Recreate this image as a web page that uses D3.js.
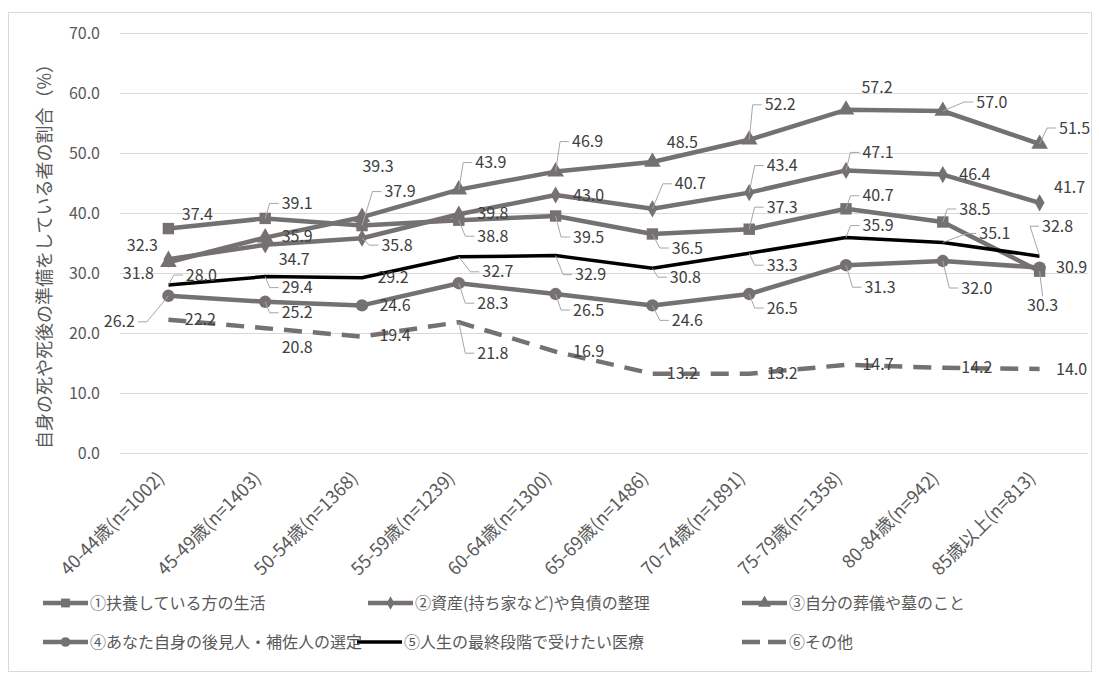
<!DOCTYPE html>
<html lang="ja">
<head>
<meta charset="utf-8">
<script src="https://cdn.jsdelivr.net/npm/d3@7"></script>
<style>
  html, body { margin: 0; padding: 0; background: #fff; }
  svg { display: block; font-family: "Noto Sans CJK JP", "Noto Sans", sans-serif; }
</style>
</head>
<body>
<svg id="chart" width="1099" height="679"></svg>
<script>
// Age groups (x axis)
const categories = [
  "40-44歳(n=1002)", "45-49歳(n=1403)", "50-54歳(n=1368)", "55-59歳(n=1239)",
  "60-64歳(n=1300)", "65-69歳(n=1486)", "70-74歳(n=1891)", "75-79歳(n=1358)",
  "80-84歳(n=942)", "85歳以上(n=813)"
];

// Y axis ticks (%)
const yTicks = [0, 10, 20, 30, 40, 50, 60, 70];

// Series names
const seriesNames = [
  "①扶養している方の生活",
  "②資産(持ち家など)や負債の整理",
  "③自分の葬儀や墓のこと",
  "④あなた自身の後見人・補佐人の選定",
  "⑤人生の最終段階で受けたい医療",
  "⑥その他"
];

// Series values (%)
const dependents = [37.4, 39.1, 37.9, 38.8, 39.5, 36.5, 37.3, 40.7, 38.5, 30.3];
const assets     = [32.3, 34.7, 35.8, 39.8, 43.0, 40.7, 43.4, 47.1, 46.4, 41.7];
const funeral    = [31.8, 35.9, 39.3, 43.9, 46.9, 48.5, 52.2, 57.2, 57.0, 51.5];
const guardian   = [26.2, 25.2, 24.6, 28.3, 26.5, 24.6, 26.5, 31.3, 32.0, 30.9];
const medical    = [28.0, 29.4, 29.2, 32.7, 32.9, 30.8, 33.3, 35.9, 35.1, 32.8];
const other      = [22.2, 20.8, 19.4, 21.8, 16.9, 13.2, 13.2, 14.7, 14.2, 14.0];

// Data-label placement: [dx, dy, leader line?] relative to each point
const labelPlacement = [
  [[29,-14,0],[32,-15,1],[38,-34,1],[34,16,1],[33,21,1],[35,14,1],[33,-22,1],[32,-13,1],[32,-13,1],[3,34,1]],
  [[-26,-14,0],[29,15,0],[35,7,1],[34,-1,0],[33,0,0],[38,-25,1],[33,-27,1],[32,-18,1],[32,0,0],[30,-15,0]],
  [[-30,11,0],[32,-1,0],[16,-51,0],[32,-27,1],[32,-30,1],[30,-20,0],[31,-35,1],[31,-22,0],[49,-9,1],[35,-16,1]],
  [[-49,26,1],[32,11,1],[33,0,0],[34,20,1],[33,16,1],[35,15,1],[33,14,1],[34,22,1],[34,27,1],[32,0,0]],
  [[33,-10,1],[32,11,1],[31,0,0],[39,15,1],[35,19,1],[33,9,1],[33,12,1],[32,-12,1],[52,-9,1],[18,-30,1]],
  [[32,0,0],[32,19,0],[33,-1,0],[34,31,1],[33,0,0],[30,0,0],[33,0,0],[32,0,0],[34,0,0],[32,0,0]]
];

const GRAY = "#767171";
const series = [
  { name: seriesNames[0], values: dependents, color: GRAY, width: 4.5, marker: "square" },
  { name: seriesNames[1], values: assets,     color: GRAY, width: 4.5, marker: "diamond" },
  { name: seriesNames[2], values: funeral,    color: GRAY, width: 4.5, marker: "triangle" },
  { name: seriesNames[3], values: guardian,   color: GRAY, width: 4.5, marker: "circle" },
  { name: seriesNames[4], values: medical,    color: "#000", width: 3.5, marker: null },
  { name: seriesNames[5], values: other,      color: GRAY, width: 4.5, marker: null, dash: "18,11" }
];

const svg = d3.select("#chart");

// Outer chart frame
svg.append("rect")
  .attr("x", 8.5).attr("y", 12.5)
  .attr("width", 1083).attr("height", 659)
  .attr("fill", "#fff").attr("stroke", "#d9d9d9").attr("stroke-width", 1);

const plot = { left: 120, right: 1088, top: 33, bottom: 453 };

const x = d3.scalePoint().domain(categories).range([plot.left, plot.right]).padding(0.5);
const y = d3.scaleLinear().domain([0, 70]).range([plot.bottom, plot.top]);

// Horizontal gridlines
svg.append("g")
  .selectAll("line")
  .data(yTicks)
  .join("line")
  .attr("x1", plot.left).attr("x2", plot.right)
  .attr("y1", d => Math.round(y(d)) + 0.5).attr("y2", d => Math.round(y(d)) + 0.5)
  .attr("stroke", "#d9d9d9").attr("stroke-width", 1);

// Y axis tick labels
const yAxis = d3.axisLeft(y).tickValues(yTicks).tickFormat(d3.format(".1f")).tickSize(0).tickPadding(0);
const yG = svg.append("g").attr("transform", `translate(${plot.left - 20},0)`).call(yAxis);
yG.select(".domain").remove();
yG.selectAll("text")
  .attr("font-size", 16).attr("fill", "#595959")
  .attr("font-family", '"Noto Sans CJK JP", sans-serif');

// Y axis title
svg.append("text")
  .attr("transform", "translate(51,252) rotate(-90)")
  .attr("text-anchor", "middle")
  .attr("font-size", 18).attr("fill", "#595959")
  .text("自身の死や死後の準備をしている者の割合（%）");

// X axis tick labels (rotated)
const xAxis = d3.axisBottom(x).tickSize(0).tickPadding(0);
const xG = svg.append("g").attr("transform", `translate(0,${plot.bottom})`).call(xAxis);
xG.select(".domain").remove();
xG.selectAll(".tick text")
  .attr("font-size", 18).attr("fill", "#595959")
  .attr("font-family", '"Noto Sans CJK JP", sans-serif')
  .attr("text-anchor", "end")
  .attr("dy", "0.35em")
  .attr("transform", "translate(-8,22) rotate(-45)");

// Marker symbols
function markerPath(kind, size) {
  const types = { square: d3.symbolSquare, diamond: d3.symbolDiamond, triangle: d3.symbolTriangle, circle: d3.symbolCircle };
  return d3.symbol().type(types[kind]).size(size)();
}
const markerSize = { square: 130, diamond: 85, triangle: 120, circle: 120 };

// Lines and markers
const line = d3.line().x((d, i) => x(categories[i])).y(d => y(d));
series.forEach(s => {
  svg.append("path")
    .datum(s.values)
    .attr("d", line)
    .attr("fill", "none")
    .attr("stroke", s.color)
    .attr("stroke-width", s.width)
    .attr("stroke-linejoin", "round")
    .attr("stroke-dasharray", s.dash || null);
  if (s.marker) {
    svg.append("g").selectAll("path")
      .data(s.values)
      .join("path")
      .attr("transform", (d, i) => `translate(${x(categories[i])},${y(d)})`)
      .attr("d", markerPath(s.marker, markerSize[s.marker]))
      .attr("fill", s.color);
  }
});

// Data labels with leader lines
const leaderG = svg.append("g");
const labelG = svg.append("g");
series.forEach((s, si) => {
  s.values.forEach((v, i) => {
    const [dx, dy, leader] = labelPlacement[si][i];
    const px = x(categories[i]), py = y(v);
    const cx = px + dx, cy = py + dy;
    const t = labelG.append("text")
      .attr("x", cx).attr("y", cy)
      .attr("dy", "0.35em")
      .attr("text-anchor", "middle")
      .attr("font-size", 16).attr("fill", "#404040")
      .text(d3.format(".1f")(v));
    if (leader) {
      const w = t.node().getComputedTextLength();
      let d;
      if (Math.abs(dx) < w / 2) {
        const top = cy + (dy > 0 ? -9 : 9);
        d = `M${px},${py}L${cx},${top}`;
      } else if (dx > 0) {
        const edge = cx - w / 2 - 3;
        d = `M${px},${py}L${edge - 9},${cy}L${edge},${cy}`;
      } else {
        const edge = cx + w / 2 + 3;
        d = `M${px},${py}L${edge + 9},${cy}L${edge},${cy}`;
      }
      leaderG.append("path").attr("d", d)
        .attr("fill", "none").attr("stroke", "#a6a6a6").attr("stroke-width", 1);
    }
  });
});

// Legend
const legendPos = [[43, 603], [368, 603], [742, 603], [43, 642], [357, 642], [742, 642]];
series.forEach((s, si) => {
  const [lx, ly] = legendPos[si];
  const g = svg.append("g").attr("transform", `translate(${lx},${ly})`);
  g.append("line")
    .attr("x1", 0).attr("x2", 45).attr("y1", 0).attr("y2", 0)
    .attr("stroke", s.color).attr("stroke-width", s.width)
    .attr("stroke-dasharray", s.dash ? "18,8" : null);
  if (s.marker) {
    g.append("path")
      .attr("transform", "translate(22.5,0)")
      .attr("d", markerPath(s.marker, markerSize[s.marker] * 0.6))
      .attr("fill", s.color);
  }
  g.append("text")
    .attr("x", 47).attr("y", 0).attr("dy", "0.35em")
    .attr("font-size", 16).attr("fill", "#595959")
    .text(s.name);
});
</script>
</body>
</html>
